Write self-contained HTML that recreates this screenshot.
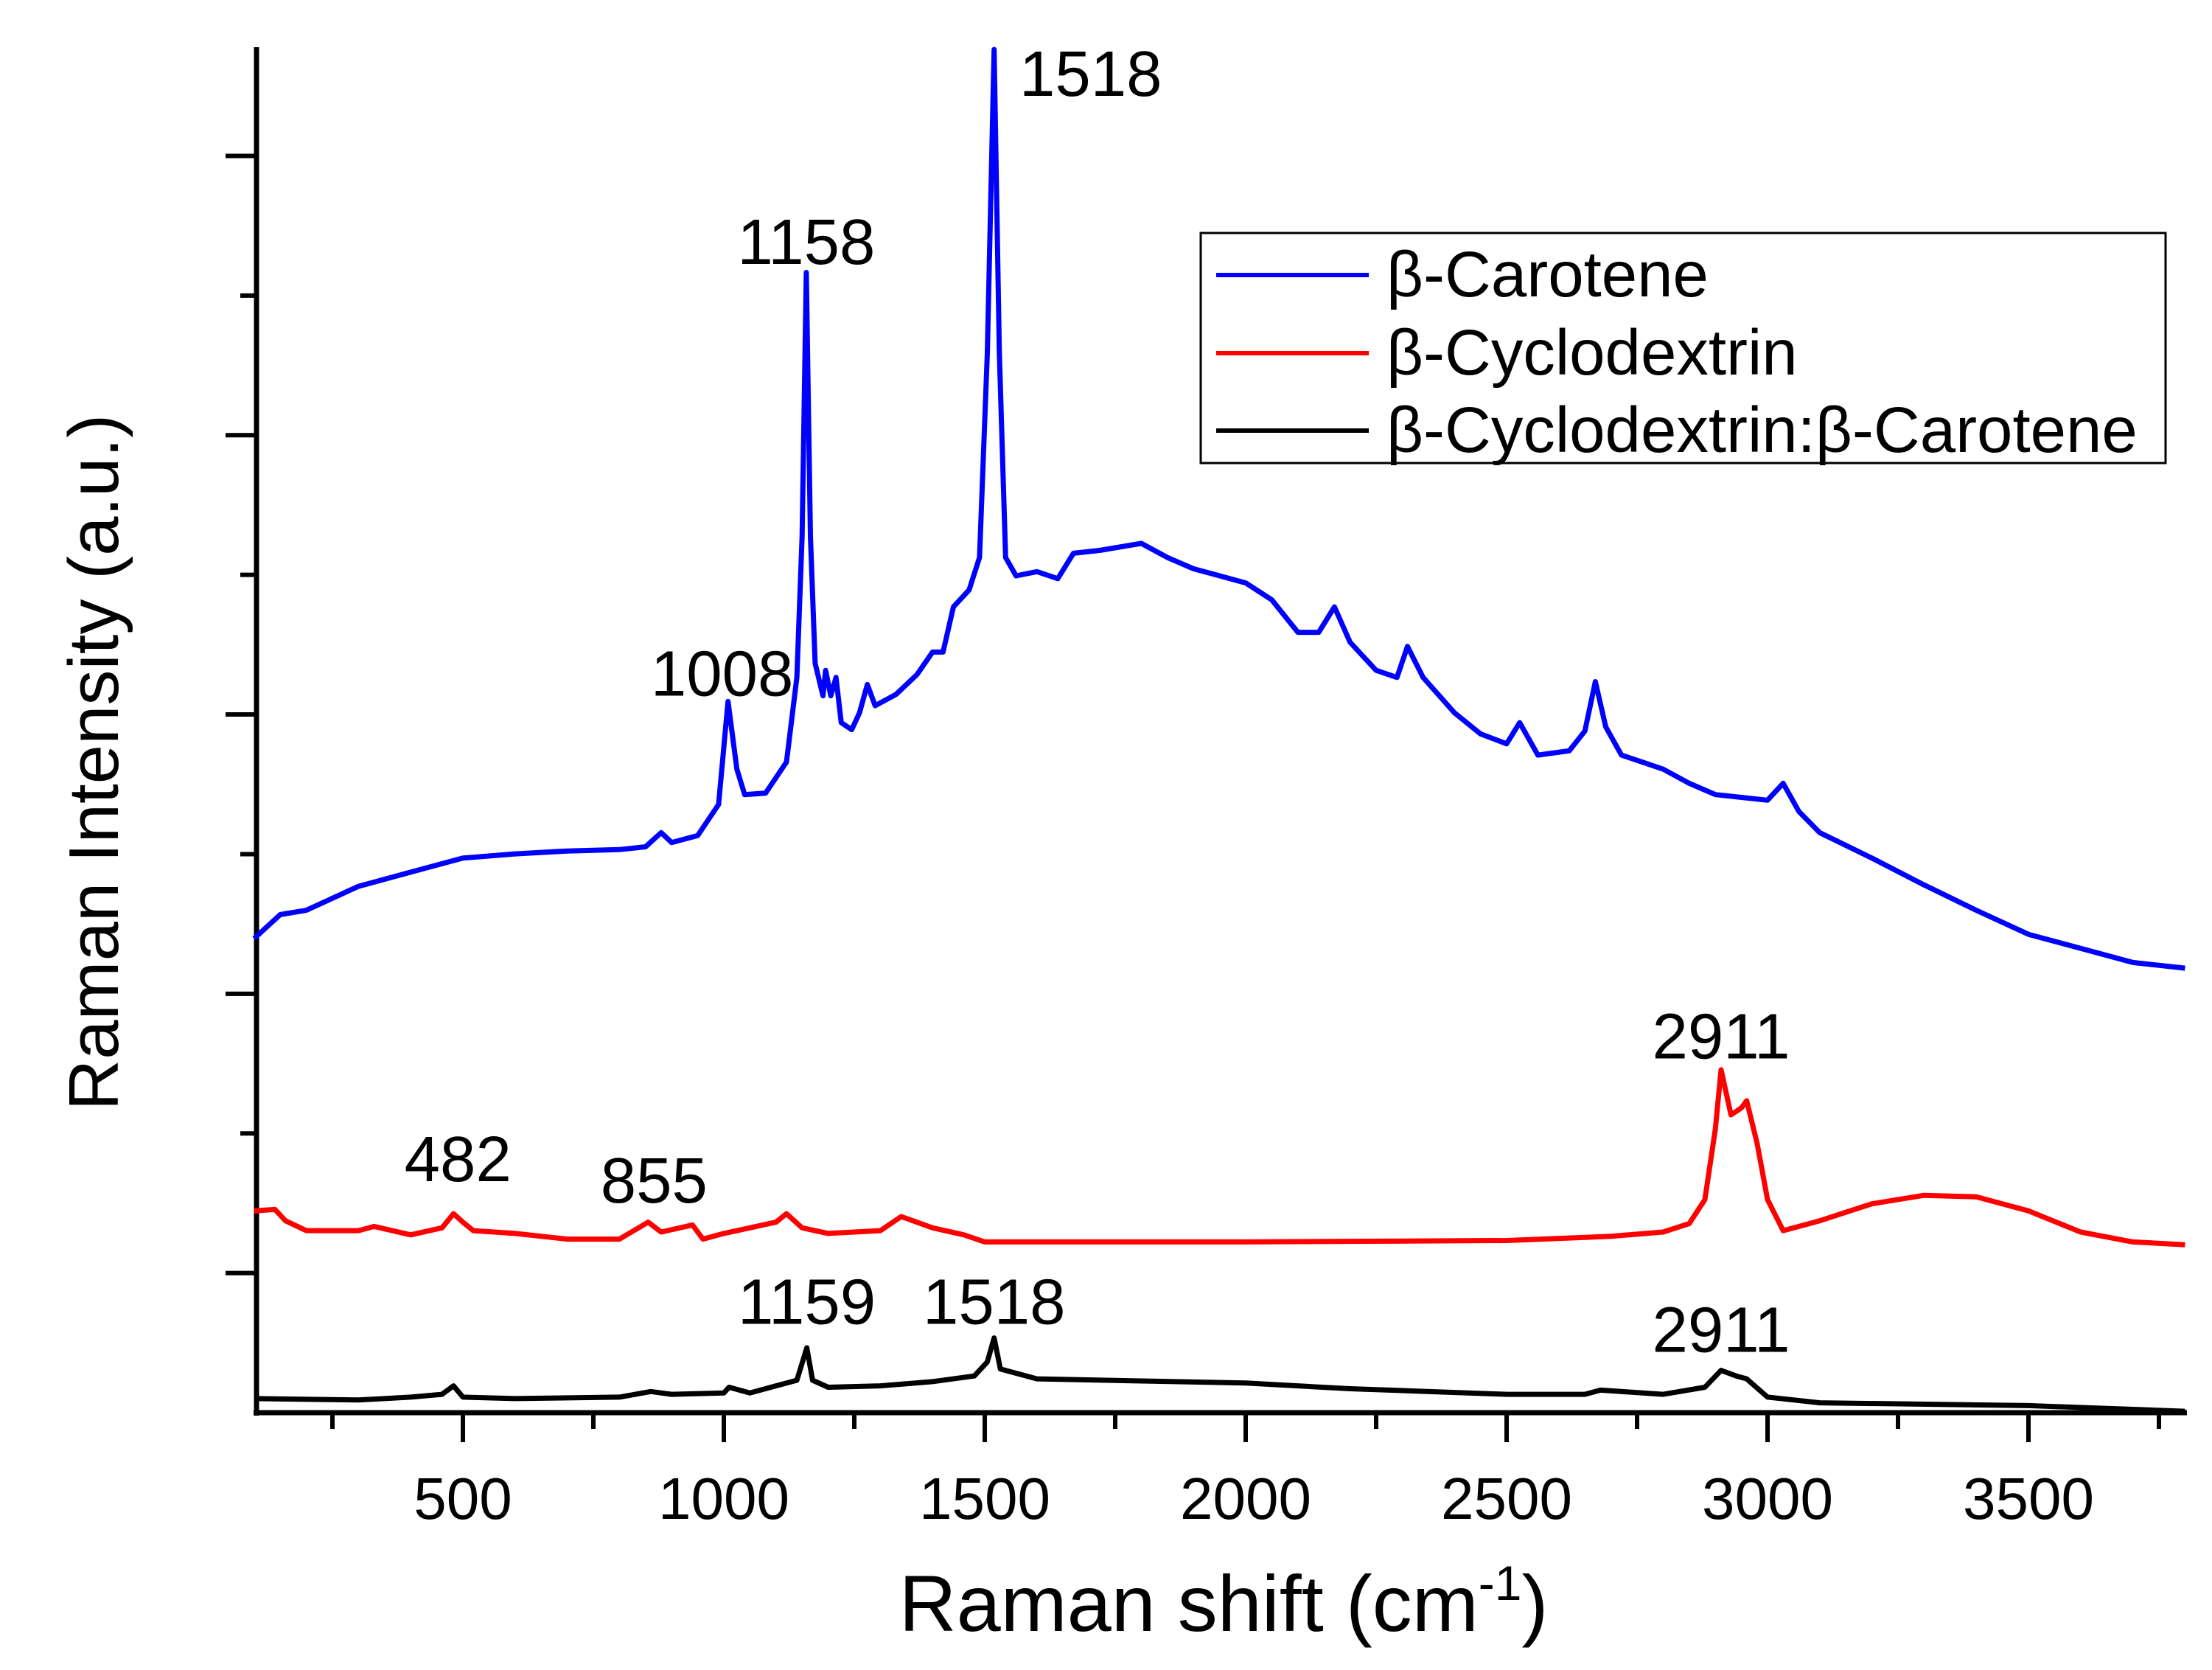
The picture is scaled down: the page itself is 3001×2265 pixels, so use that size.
<!DOCTYPE html>
<html><head><meta charset="utf-8"><style>
html,body{margin:0;padding:0;background:#fff}
svg{display:block}
text{font-family:"Liberation Sans",sans-serif;fill:#000}
</style></head><body>
<svg id="chart" width="3001" height="2265" viewBox="0 0 3001 2265" xmlns="http://www.w3.org/2000/svg">
<g id="axes"></g>
<g id="series"></g>
<g id="labels"></g>
<text x="1660" y="2212" font-size="108" text-anchor="middle">Raman shift (cm<tspan dy="-42" font-size="66">-1</tspan><tspan dy="42">)</tspan></text>
<text transform="translate(160,1034) rotate(-90)" font-size="96" text-anchor="middle">Raman Intensity (a.u.)</text>
<g>
<rect x="1629" y="316" width="1309" height="312" fill="#fff" stroke="#000" stroke-width="3"/>
<line x1="1650" y1="373" x2="1857" y2="373" stroke="#0000ff" stroke-width="6"/>
<text x="1881" y="402" font-size="87">β-Carotene</text>
<line x1="1650" y1="479" x2="1857" y2="479" stroke="#ff0000" stroke-width="6"/>
<text x="1881" y="508" font-size="87">β-Cyclodextrin</text>
<line x1="1650" y1="584" x2="1857" y2="584" stroke="#000" stroke-width="6"/>
<text x="1881" y="613" font-size="87">β-Cyclodextrin:β-Carotene</text>
</g>
</svg>
<script>
const NS="http://www.w3.org/2000/svg";
// data (intensity in arbitrary units)
const blueX=[100,150,200,300,400,500,600,700,800,850,880,900,950,990,1008,1025,1040,1080,1120,1140,1150,1158,1166,1175,1190,1195,1205,1215,1225,1245,1260,1275,1290,1330,1370,1400,1420,1440,1470,1490,1505,1518,1528,1540,1560,1600,1640,1670,1720,1800,1850,1900,2000,2050,2100,2140,2170,2200,2250,2290,2310,2340,2400,2450,2500,2525,2560,2620,2650,2670,2690,2720,2800,2850,2900,2950,3000,3030,3060,3100,3200,3300,3400,3500,3600,3700,3800];
const blueY=[336,353,356,373,383,393,396,398,399,401,411,404,409,431,504,456,438,439,461,521,621,808,621,531,508,526,508,521,489,484,496,516,501,509,523,539,539,571,583,606,751,966,751,606,593,596,591,609,611,616,606,598,588,576,553,553,571,546,526,521,543,521,496,481,474,489,466,469,483,518,486,466,456,446,438,436,434,446,426,411,393,374,356,339,329,319,315];
const redX=[100,140,160,200,300,330,400,460,482,500,520,600,700,800,855,880,940,960,1000,1050,1100,1120,1150,1200,1250,1300,1340,1400,1460,1500,1600,2000,2500,2700,2800,2850,2880,2900,2911,2930,2950,2960,2980,3000,3030,3100,3200,3300,3400,3500,3600,3700,3800];
const redY=[143,144,136,129,129,132,126,131,141,135,129,127,123,123,135,128,133,123,127,131,135,141,131,127,128,129,139,131,126,121,121,121,122,125,128,134,151,201,243,211,216,221,191,151,129,136,148,154,153,143,128,121,119];
const blackX=[100,300,400,460,482,500,600,800,860,900,1000,1010,1050,1100,1140,1159,1170,1200,1300,1400,1480,1505,1518,1530,1600,2000,2200,2500,2650,2680,2800,2880,2911,2940,2960,3000,3100,3500,3800];
const blackY=[10,9,11,13,19,11,10,11,15,13,14,18,14,19,23,46,23,18,19,22,26,36,53,31,24,21,17,13,13,16,13,18,30,26,24,11,7,5,1];
const xTickVals=[500,1000,1500,2000,2500,3000,3500];
const xMinorVals=[250,750,1250,1750,2250,2750,3250,3750];
const yTickUnit=98.95;
const yMajorIdx=[1,3,5,7,9];
const yMinorIdx=[2,4,6,8];
const peakLabels=["1518","1158","1008","2911","482","855","1159","1518","2911"];
const peakLX=[1518,1158,1008,2911,482,855,1159,1518,2911];
const peakLV=[933,814,508,251,164,149,63,63,43];

const X=x=>628+(x-500)*0.708;
const Y=v=>1916-v*1.914;
const axes=document.getElementById('axes');
function ln(x1,y1,x2,y2,w,name){const l=document.createElementNS(NS,'line');
l.setAttribute('x1',x1);l.setAttribute('y1',y1);l.setAttribute('x2',x2);l.setAttribute('y2',y2);
l.setAttribute('stroke','#000');l.setAttribute('stroke-width',w);


axes.appendChild(l);return l;}
ln(348,64,348,1920,7,'y-axis-line');
ln(344,1916,2967,1916,7,'x-axis-line');
xTickVals.forEach(v=>{ln(X(v),1916,X(v),1956,6,'x-tick');
const t=document.createElementNS(NS,'text');t.setAttribute('x',X(v));t.setAttribute('y',2060);
t.setAttribute('font-size','80');t.setAttribute('text-anchor','middle');t.textContent=v;


axes.appendChild(t);});
xMinorVals.forEach(v=>ln(X(v),1916,X(v),1938,6,'x-minor-tick'));
yMajorIdx.forEach(k=>ln(306,Y(k*yTickUnit),348,Y(k*yTickUnit),6,'y-tick'));
yMinorIdx.forEach(k=>ln(326,Y(k*yTickUnit),348,Y(k*yTickUnit),6,'y-minor-tick'));
const ser=document.getElementById('series');
function path(xs,ys,color,name){const p=document.createElementNS(NS,'path');
p.setAttribute('d',xs.map((x,i)=>(i?'L':'M')+X(x).toFixed(1)+','+Y(ys[i]).toFixed(1)).join(''));
p.setAttribute('fill','none');p.setAttribute('stroke',color);p.setAttribute('stroke-width','7');p.setAttribute('stroke-linejoin','round');


ser.appendChild(p);}
path(blueX,blueY,'#0000ff','beta-carotene-line');
path(redX,redY,'#ff0000','beta-cyclodextrin-line');
path(blackX,blackY,'#000000','complex-line');
const lab=document.getElementById('labels');
const dxOff=[131,0,-8,0,6,8,0,0,0];
peakLabels.forEach((s,i)=>{const t=document.createElementNS(NS,'text');
t.setAttribute('x',X(peakLX[i])+dxOff[i]);t.setAttribute('y',Y(peakLV[i]));
t.setAttribute('font-size','87');t.setAttribute('text-anchor','middle');t.textContent=s;


lab.appendChild(t);});
</script>
</body></html>
